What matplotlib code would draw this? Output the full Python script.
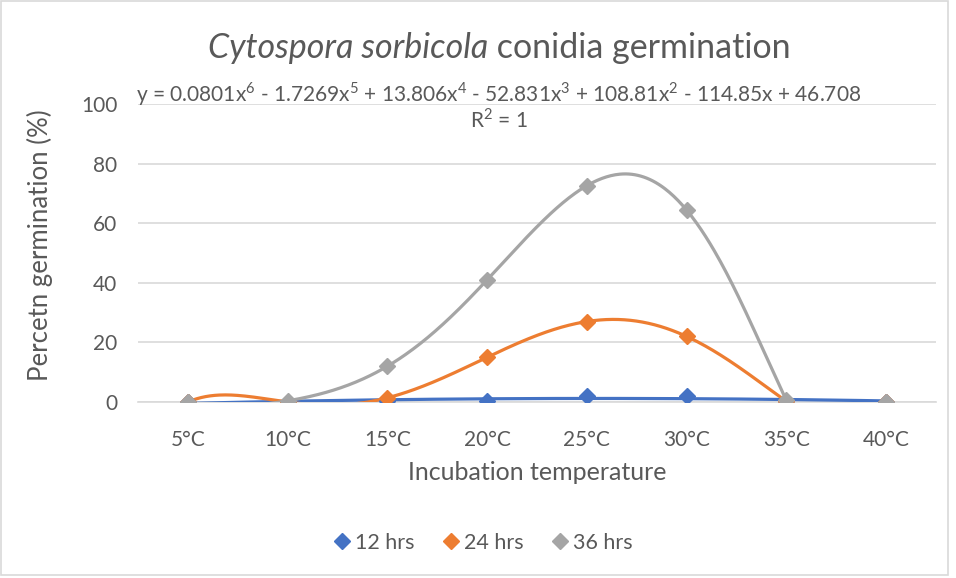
import numpy as np
import matplotlib
matplotlib.use("Agg")
import matplotlib.pyplot as plt
from matplotlib.patches import Rectangle
from matplotlib.lines import Line2D

categories = ["5°C", "10°C", "15°C", "20°C", "25°C", "30°C", "35°C", "40°C"]
hrs12 = [0, 0, 0.3, 0.2, 2.0, 2.0, 0.5, 0.1]
hrs24 = [0, 0, 1.4, 15.0, 27.0, 22.0, 0.2, 0.1]
hrs36 = [0, 0.4, 12.0, 41.0, 72.6, 64.4, 0.6, 0.1]
series_names = ["12 hrs", "24 hrs", "36 hrs"]
colors = ["#4472C4", "#ED7D31", "#A5A5A5"]
# trendline: (polynomial order, number of points used from the start)
trend_spec = [(2, 8), (6, 7), (6, 7)]

title_italic = "Cytospora sorbicola"
title_rest = " conidia germination"
eq_text = "y = 0.0801x$^{6}$ - 1.7269x$^{5}$ + 13.806x$^{4}$ - 52.831x$^{3}$ + 108.81x$^{2}$ - 114.85x + 46.708"
r2_text = "R$^{2}$ = 1"

plt.rcParams['font.family'] = ['Lato', 'DejaVu Sans']
plt.rcParams['mathtext.fontset'] = 'custom'
plt.rcParams['mathtext.rm'] = 'Lato'
text_c = "#595959"

fig = plt.figure(figsize=(9.56, 5.78), dpi=100)
W, H = 956, 578
ax = fig.add_axes([138 / W, 1 - 402 / H, (936 - 138) / W, (402 - 104) / H])

x = np.arange(len(categories))
data = [hrs12, hrs24, hrs36]

# trendlines
for vals, col, (order, n) in zip(data, colors, trend_spec):
    xs = np.arange(1, n + 1)
    coef = np.polyfit(xs, np.array(vals[:n]), order)
    xf = np.linspace(1, n, 400)
    ax.plot(xf - 1, np.polyval(coef, xf), color=col, lw=2.3, zorder=3,
            solid_capstyle='round')

# markers
for vals, col in zip(data, colors):
    ax.plot(x, vals, linestyle='none', marker='D', ms=8.5, color=col,
            markeredgecolor=col, zorder=4)

ax.set_xlim(-0.5, 7.5)
ax.set_ylim(0, 100)
ax.set_yticks(range(0, 101, 20))
ax.set_xticks(x)
ax.set_xticklabels(categories)
ax.grid(axis='y', color='#D9D9D9', lw=1.2)
ax.set_axisbelow(True)
for s in ["top", "right", "left"]:
    ax.spines[s].set_visible(False)
ax.spines["bottom"].set_color('#D9D9D9')
ax.spines["bottom"].set_linewidth(1.2)
ax.tick_params(axis='both', length=0, labelsize=15, colors=text_c)
ax.tick_params(axis='x', pad=20)
ax.tick_params(axis='y', pad=15)

fig.text(40 / W, 1 - 245 / H, "Percetn germination (%)", fontsize=18.5,
         color=text_c, ha='center', va='center', rotation=90)
fig.text(537 / W, 1 - 472 / H, "Incubation temperature", fontsize=18,
         color=text_c, ha='center', va='center')

# title (italic species name + regular)
t1 = fig.text(0, 1 - 48 / H, title_italic, fontsize=24.5, color=text_c,
              style='italic', va='center', ha='left')
t2 = fig.text(0, 1 - 48 / H, title_rest, fontsize=24.5, color=text_c,
              va='center', ha='left')
fig.canvas.draw()
r = fig.canvas.get_renderer()
w1 = t1.get_window_extent(r).width
w2 = t2.get_window_extent(r).width
start = 499 - (w1 + w2) / 2
t1.set_x(start / W)
t2.set_x((start + w1) / W)

fig.text(499 / W, 1 - 94 / H, eq_text, fontsize=15, color=text_c,
         ha='center', va='center')
fig.text(499 / W, 1 - 120 / H, r2_text, fontsize=15, color=text_c,
         ha='center', va='center')

handles = [Line2D([], [], linestyle='none', marker='D', ms=8.5, color=c)
           for c in colors]
fig.legend(handles, series_names, loc='center', bbox_to_anchor=(482 / W, 1 - 543 / H),
           ncol=3, frameon=False, fontsize=15.5, labelcolor=text_c,
           handletextpad=0.1, columnspacing=1.2, handlelength=1.0)

fig.patches.append(Rectangle((1 / W, 3 / H), 947 / W, 574 / H, transform=fig.transFigure,
                             fill=False, edgecolor='#D9D9D9', lw=1.2))

fig.savefig("out.png", dpi=100)
